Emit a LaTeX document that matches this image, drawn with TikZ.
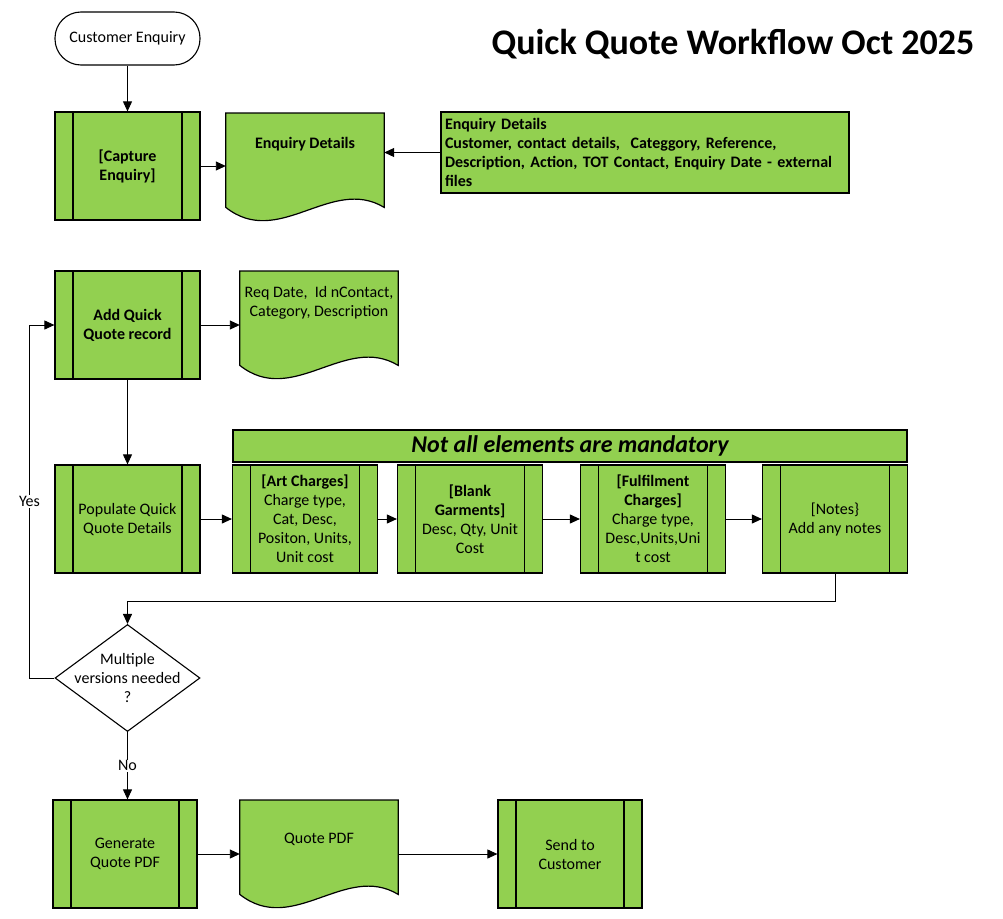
\documentclass[tikz,border=0pt]{standalone}
\usepackage{fontspec}
\setmainfont{Carlito}
\usepackage{tikz}
\usetikzlibrary{shapes.geometric,arrows.meta,calc}
\definecolor{qgreen}{HTML}{92D050}
\newcommand{\docwave}[1]{\draw[docline] (#1.north west) -- (#1.north east) -- (#1.south east) .. controls ($(#1.south east)+(-53,-32)$) and ($(#1.south west)+(53,42)$) .. (#1.south west) -- cycle;}

\begin{document}
\begin{tikzpicture}[x=1pt,y=-1pt,
  base/.style={font=\fontsize{16}{19}\selectfont, align=center},
  proc/.style={base, draw, line width=1.2pt, fill=qgreen, minimum width=145pt, minimum height=108pt, inner sep=0pt,
    path picture={\draw[line width=1.2pt] ([xshift=18pt]path picture bounding box.north west) -- ([xshift=18pt]path picture bounding box.south west);
      \draw[line width=1.2pt] ([xshift=-18pt]path picture bounding box.north east) -- ([xshift=-18pt]path picture bounding box.south east);}},
  docbox/.style={minimum width=158pt, minimum height=94pt, inner sep=0pt, anchor=north},
  docline/.style={draw, line width=1.2pt, fill=qgreen},
  term/.style={base, draw, line width=1.1pt, fill=white, rounded corners=26pt, minimum width=145pt, minimum height=53pt},
  decision/.style={diamond, draw, line width=1.1pt, fill=white, minimum width=145pt, minimum height=107pt, inner sep=0pt},
  arrow/.style={draw, line width=0.9pt, -{Triangle[length=10pt,width=9pt]}},
  lbl/.style={base, fill=white, inner sep=1pt}]
\useasboundingbox (0,0) rectangle (1003,918);

\node[font=\fontsize{36}{40}\selectfont\bfseries] (title) at (733,44) {Quick Quote Workflow Oct 2025};

\node[term] (enquiry) at (127.5,38.5) {Customer Enquiry};
\node[proc, font=\fontsize{16}{19}\selectfont\bfseries] (capture) at (127.5,166) {[Capture\\Enquiry]};
\node[docbox] (encdoc) at (305,113) {};
\docwave{encdoc}
\node[base, font=\fontsize{16}{19}\selectfont\bfseries] (encdoctxt) at (305,144) {Enquiry Details};
\node[draw, line width=1.2pt, fill=qgreen, text width=400pt, minimum height=81pt, align=left, inner sep=4pt, font=\fontsize{16}{19}\selectfont\bfseries] (encbox) at (645,152.5) {Enquiry Details\\Customer, contact details,\ \ Categgory, Reference,\\Description, Action, TOT Contact, Enquiry Date - external\\files};

\node[proc, font=\fontsize{16}{19}\selectfont\bfseries] (addquote) at (127.5,325) {Add Quick\\Quote record};
\node[docbox] (reqdoc) at (319,271) {};
\docwave{reqdoc}
\node[base] (reqdoctxt) at (319,302.5) {Req Date,\ \ Id nContact,\\Category, Description};

\node[proc] (populate) at (127.5,519) {Populate Quick\\Quote Details};
\node[base, draw, line width=1.2pt, fill=qgreen, minimum width=674pt, minimum height=32pt, inner sep=0pt, font=\fontsize{24}{28}\selectfont\bfseries\itshape] (banner) at (570,446) {Not all elements are mandatory};
\node[proc] (art) at (305,519) {\textbf{[Art Charges]}\\Charge type,\\Cat, Desc,\\Positon, Units,\\Unit cost};
\node[proc] (blank) at (470,519) {\textbf{[Blank}\\\textbf{Garments]}\\Desc, Qty, Unit\\Cost};
\node[proc] (fulfil) at (653,519) {\textbf{[Fulfilment}\\\textbf{Charges]}\\Charge type,\\Desc,Units,Uni\\t cost};
\node[proc] (notes) at (835,519) {[Notes\}\\Add any notes};

\node[decision] (multi) at (127.5,678) {};
\node[base] (multitxt) at (multi) {Multiple\\versions needed\\?};

\node[proc, minimum width=144pt] (generate) at (125,854) {Generate\\Quote PDF};
\node[docbox] (pdfdoc) at (319,800) {};
\docwave{pdfdoc}
\node[base] (pdfdoctxt) at (319,839) {Quote PDF};
\node[proc, minimum width=144pt] (send) at (570,854) {Send to\\Customer};

\draw[arrow] (enquiry) -- (capture);
\draw[arrow] (capture.east) -- (capture.east -| encdoc.west);
\draw[arrow] (encbox.west) -- (encbox.west -| encdoc.east);
\draw[arrow] (addquote.east) -- (addquote.east -| reqdoc.west);
\draw[arrow] (addquote) -- (populate);
\draw[arrow] (populate) -- (art);
\draw[arrow] (art) -- (blank);
\draw[arrow] (blank) -- (fulfil);
\draw[arrow] (fulfil) -- (notes);
\draw[arrow] (notes.south) -- ++(0,28) -| (multi.north);
\draw[arrow] (multi.west) -- ++(-25,0) |- node[lbl, pos=0.25] (yes) {Yes} (addquote.west);
\draw[arrow] (multi.south) -- node[lbl] (no) {No} (multi.south |- generate.north);
\draw[arrow] (generate.east) -- (generate.east -| pdfdoc.west);
\draw[arrow] (send.west -| pdfdoc.east) -- (send.west);
\end{tikzpicture}
\end{document}
